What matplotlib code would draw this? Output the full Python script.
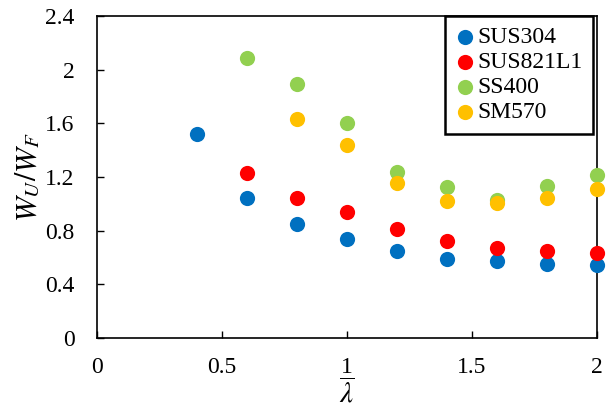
import matplotlib
matplotlib.use("Agg")
import matplotlib.pyplot as plt

# values
x_vals = [0.4, 0.6, 0.8, 1.0, 1.2, 1.4, 1.6, 1.8, 2.0]
sus304 = [1.52, 1.04, 0.85, 0.74, 0.65, 0.59, 0.57, 0.55, 0.54]
sus821l1 = [None, 1.23, 1.04, 0.94, 0.81, 0.72, 0.67, 0.65, 0.63]
ss400 = [None, 2.09, 1.89, 1.60, 1.24, 1.125, 1.03, 1.13, 1.215]
sm570 = [None, None, 1.63, 1.44, 1.155, 1.02, 1.006, 1.04, 1.11]

labels = ["SUS304", "SUS821L1", "SS400", "SM570"]
colors = ["#0070C0", "#FF0000", "#92D050", "#FFC000"]

plt.rcParams["font.family"] = "Liberation Serif"
plt.rcParams["mathtext.fontset"] = "stix"

fig = plt.figure(figsize=(6.13, 4.09), dpi=100)
ax = fig.add_axes([0.158, 0.174, 0.816, 0.787])

for series, lab, col in zip([sus304, sus821l1, ss400, sm570], labels, colors):
    xs = [x for x, v in zip(x_vals, series) if v is not None]
    ys = [v for v in series if v is not None]
    ax.scatter(xs, ys, s=120, color=col, label=lab, zorder=3,
               linewidths=0, clip_on=False)

ax.set_xlim(0, 2)
ax.set_ylim(0, 2.4)
ax.set_xticks([0, 0.5, 1, 1.5, 2])
ax.set_xticklabels(["0", "0.5", "1", "1.5", "2"])
ax.set_yticks([0, 0.4, 0.8, 1.2, 1.6, 2, 2.4])
ax.set_yticklabels(["0", "0.4", "0.8", "1.2", "1.6", "2", "2.4"])
ax.tick_params(direction="in", labelsize=17, length=5, width=1)
ax.tick_params(axis="x", pad=14)
ax.tick_params(axis="y", pad=16)
for sp in ax.spines.values():
    sp.set_linewidth(1.2)

ax.set_xlabel(r"$\overline{\lambda}$", fontsize=21, labelpad=0)
ax.set_ylabel(r"$W_U/W_F$", fontsize=21.5, labelpad=2)

leg = ax.legend(loc="upper right", bbox_to_anchor=(0.992, 1.0), fontsize=17,
                frameon=True, fancybox=False, edgecolor="black",
                handlelength=0.75, handletextpad=0.15, borderpad=0.45,
                labelspacing=0.15, borderaxespad=0, markerscale=1.0,
                framealpha=1)
leg.get_frame().set_linewidth(1.8)

fig.savefig("out.png", dpi=100)
